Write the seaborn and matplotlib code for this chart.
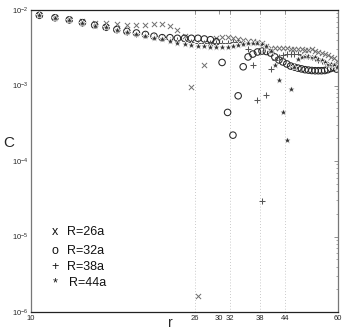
import numpy as np
import pandas as pd
import matplotlib
matplotlib.use("Agg")
import matplotlib.pyplot as plt
import seaborn as sns
from matplotlib.ticker import (FixedLocator, NullLocator, LogLocator,
                               LogFormatterSciNotation, NullFormatter)

# separation r (in units of a)
r = [10.5, 11.5, 12.5, 13.5, 14.5, 15.5, 16.5, 17.5, 18.5, 19.5,
     20.5, 21.5, 22.5, 23.5, 24.5, 25.5, 26.5, 27.5, 28.5, 29.5,
     30.5, 31.5, 32.5, 33.5, 34.5, 35.5, 36.5, 37.5, 38.5, 39.5,
     40.5, 41.5, 42.5, 43.5, 44.5, 45.5, 46.5, 47.5, 48.5, 49.5,
     50.5, 51.5, 52.5, 53.5, 54.5, 55.5, 56.5, 57.5, 58.5, 59.5]

# correlation C(r), in units of 1e-3
c_r26 = [8.7, 8.1, 7.5, 7.2, 6.8, 6.7, 6.5, 6.3, 6.3, 6.3,
         6.45, 6.5, 6.2, 5.4, 4.5, 0.96, 0.00163, 1.87, 3.6, 4.3,
         4.43, 4.43, 4.3, 4.13, 4.0, 3.94, 3.89, 3.80, 3.62, 3.34,
         3.14, 3.14, 3.1, 3.1, 3.1, 3.04, 3.04, 3.0, 3.0, 2.98,
         2.95, 3.0, 2.9, 2.8, 2.7, 2.6, 2.5, 2.4, 2.3, 2.1]
c_r32 = [8.5, 7.9, 7.4, 6.8, 6.3, 5.9, 5.5, 5.2, 4.96, 4.74,
         4.5, 4.3, 4.3, 4.22, 4.22, 4.22, 4.22, 4.13, 4.04, 3.8,
         2.02, 0.44, 0.22, 0.73, 1.77, 2.39, 2.61, 2.78, 2.86, 2.82,
         2.69, 2.39, 2.18, 2.05, 1.93, 1.81, 1.75, 1.70, 1.66, 1.62,
         1.60, 1.58, 1.57, 1.57, 1.57, 1.58, 1.62, 1.68, 1.73, 1.65]
c_r38 = [8.6, 8.0, 7.3, 6.8, 6.3, 5.95, 5.55, 5.15, 4.85, 4.6,
         4.4, 4.2, 4.05, 3.95, 3.85, 3.75, 3.7, 3.65, 3.62, 3.62,
         3.65, 3.7, 3.75, 3.8, 3.6, 3.0, 1.87, 0.64, 0.0298, 0.74,
         1.65, 2.18, 2.39, 2.5, 2.6, 2.65, 2.65, 2.6, 2.55, 2.5,
         2.45, 2.4, 2.3, 2.2, 2.1, 2.05, 2.0, 1.95, 1.9, 1.8]
c_r44 = [8.5, 7.9, 7.3, 6.7, 6.2, 5.9, 5.5, 5.1, 4.8, 4.55,
         4.3, 4.1, 3.9, 3.7, 3.55, 3.45, 3.35, 3.3, 3.25, 3.2,
         3.2, 3.25, 3.3, 3.4, 3.5, 3.6, 3.65, 3.65, 3.55, 3.35,
         2.9, 1.87, 1.18, 0.45, 0.19, 0.89, 1.75, 2.25, 2.4, 2.45,
         2.45, 2.4, 2.35, 2.25, 2.15, 2.05, 1.95, 1.9, 1.85, 1.75]

series_labels = ["R=26a", "R=32a", "R=38a", "R=44a"]
legend_symbols = ["x", "o", "+", "*"]
x_ticks = [10, 26, 30, 32, 38, 44, 60]
guide_r = [26, 32, 38, 44]

df = pd.DataFrame({
    "r": r * 4,
    "C": np.concatenate([c_r26, c_r32, c_r38, c_r44]) * 1e-3,
    "R": np.repeat(series_labels, len(r)),
})

sns.set_style("white")
plt.rcParams["font.family"] = ["Liberation Sans Narrow", "Liberation Sans", "DejaVu Sans"]
plt.rcParams["mathtext.fontset"] = "custom"

fig = plt.figure(figsize=(3.44, 3.33), dpi=100)
ax = fig.add_axes([31 / 344, 21 / 333, 307 / 344, 302 / 333])

for xv in guide_r:
    ax.axvline(xv, color="#b8b8b8", linestyle=(0, (1, 2.5)), linewidth=0.6, zorder=0)

styles = {
    "R=26a": dict(marker="x", color="#6e6e6e", s=14, linewidth=0.7),
    "R=32a": dict(marker="o", facecolor="none", edgecolor="#262626", s=22, linewidth=0.75),
    "R=38a": dict(marker="+", color="#555555", s=20, linewidth=0.75),
    "R=44a": dict(marker="*", color="#303030", s=30, linewidth=0.4),
}
for lab in series_labels:
    sub = df[df["R"] == lab]
    sns.scatterplot(data=sub, x="r", y="C", ax=ax, legend=False, **styles[lab])

ax.set_xscale("log")
ax.set_yscale("log")
ax.set_xlim(10, 60)
ax.set_ylim(1e-6, 1e-2)

ax.xaxis.set_major_locator(FixedLocator(x_ticks))
ax.xaxis.set_minor_locator(NullLocator())
ax.set_xticklabels([str(t) for t in x_ticks])
ax.yaxis.set_major_locator(LogLocator(base=10))
ax.yaxis.set_major_formatter(LogFormatterSciNotation())
ax.yaxis.set_minor_locator(LogLocator(base=10, subs=np.arange(2, 10)))
ax.yaxis.set_minor_formatter(NullFormatter())

ax.tick_params(axis="both", which="both", direction="in", top=True, right=True,
               labelsize=5.5, color="#666666", pad=2)
ax.tick_params(axis="both", which="major", length=3, width=0.5)
ax.tick_params(axis="y", which="minor", length=1.8, width=0.4)

for side in ["top", "bottom"]:
    ax.spines[side].set_color("#222222")
    ax.spines[side].set_linewidth(0.9)
for side in ["left", "right"]:
    ax.spines[side].set_color("#777777")
    ax.spines[side].set_linewidth(0.9)

ax.set_xlabel("r", fontsize=10, va="center")
ax.xaxis.set_label_coords(0.455, -0.036)
ax.set_ylabel("C", fontsize=11, rotation=0, ha="center", va="center")
ax.yaxis.set_label_coords(-0.072, 0.56)

# symbol key in the lower-left corner
rows_y = [0.266, 0.202, 0.148, 0.095]
label_x = [0.116, 0.116, 0.116, 0.125]
for sym, lab, yy, lx in zip(legend_symbols, series_labels, rows_y, label_x):
    ax.text(0.078, yy, sym, transform=ax.transAxes, fontsize=9, ha="center",
            va="center", color="#111111")
    ax.text(lx, yy, lab, transform=ax.transAxes, fontsize=9, ha="left",
            va="center", color="#111111")

fig.savefig("out.png", dpi=100)
